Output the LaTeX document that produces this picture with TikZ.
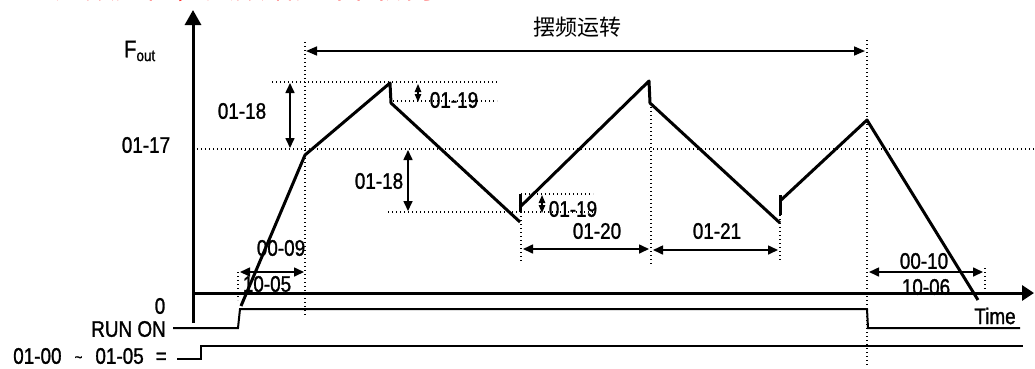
\documentclass[tikz,border=0pt]{standalone}
\usepackage{fontspec}
\setmainfont{Liberation Sans}
\newfontfamily\lblfont[FakeStretch=0.84,FakeBold=1.2]{Liberation Sans}
\newfontfamily\cjkfont{Noto Sans CJK SC}
\usetikzlibrary{arrows.meta}
\begin{document}
\begin{tikzpicture}[x=1pt,y=-1pt,
  lbl/.style={font=\lblfont\fontsize{22.5}{24}\selectfont, inner sep=0pt},
  dotline/.style={line width=1.4pt, dash pattern=on 1.4pt off 2.6pt},
  wave/.style={line width=3pt, line join=round},
  sig/.style={line width=2pt},
  dimarrow/.style={line width=1.6pt, {Triangle[length=10pt,width=9pt]}-{Triangle[length=10pt,width=9pt]}},
  smalldim/.style={line width=1.2pt, {Triangle[length=8pt,width=6.5pt]}-{Triangle[length=8pt,width=6.5pt]}},
  axisline/.style={line width=3pt}
]
\useasboundingbox (0,0) rectangle (1035,368);
\fill[white] (0,0) rectangle (1035,368);

% clipped red heading (only its lower edge is visible, as in the reference)
\begin{scope}
\clip (0,0) rectangle (1035,368);
\node[font=\cjkfont\fontsize{30}{32}\selectfont, text=red, anchor=base west, inner sep=0pt] (heading) at (55,-1.5) {加频定值，其频谱如下图所示：};
\end{scope}

% labels
\node[font=\cjkfont\fontsize{22}{24}\selectfont, inner sep=0pt] (title) at (577,27) {摆频运转};
\node[lbl, anchor=west] (fout) at (124,51) {\fontsize{24}{26}\selectfont F\raisebox{-0.3ex}{\fontsize{16}{17}\selectfont out}};
\node[lbl] (l0118a) at (242,111) {01-18};
\node[lbl] (l0117) at (146,145) {01-17};
\node[lbl] (l0119a) at (454,100) {01-19};
\node[lbl] (l0118b) at (379,181) {01-18};
\node[lbl] (l0119b) at (573,209) {01-19};
\node[lbl] (l0120) at (597,231) {01-20};
\node[lbl] (l0121) at (717,231) {01-21};
\node[lbl] (l0009) at (281,248) {00-09};
\node[lbl] (l1005) at (267,284) {10-05};
\node[lbl] (l0010) at (924,261) {00-10};
\node[lbl] (l1006) at (926,287) {10-06};
\node[lbl] (ltime) at (995,316) {Time};
\node[lbl] (lzero) at (160,306) {0};
\node[lbl, anchor=east] (lrun) at (166,329) {RUN ON};
\node[lbl, anchor=east] (lrange) at (167,356) {01-00\hspace{13pt}\raisebox{0.1ex}{\fontsize{16}{16}\selectfont\textasciitilde}\hspace{13pt}01-05\hspace{12pt}=};

% coordinates
\coordinate (ytop) at (193,10);
\coordinate (ybot) at (193,323);
\coordinate (xl) at (193,293);
\coordinate (xr) at (1034,293);

% dotted guide lines
\draw[dotline] (305,42) -- (305,315);
\draw[dotline] (238,272) -- (238,300);
\draw[dotline] (521,212) -- (521,262);
\draw[dotline] (651,103) -- (651,265);
\draw[dotline] (780,215) -- (780,262);
\draw[dotline] (867,40) -- (867,365);
\draw[dotline] (985,268) -- (985,295);
\draw[dotline] (272,82) -- (498,82);
\draw[dotline] (393,101) -- (497,101);
\draw[dotline] (193,149) -- (1035,149);
\draw[dotline] (388,212) -- (593,212);
\draw[dotline] (521,194) -- (593,194);

% axes
\draw[axisline, -{Triangle[length=15pt,width=16pt]}] (ybot) -- (ytop);
\draw[axisline, -{Triangle[length=12pt,width=15pt]}] (xl) -- (xr);

% waveform
\coordinate (w0) at (241,306);
\coordinate (w1) at (305,155);
\coordinate (p1) at (390,83);
\coordinate (p1b) at (391,103);
\coordinate (b1) at (520,222);
\coordinate (b1t) at (520,194);
\coordinate (b1m) at (520,212);
\coordinate (b1s) at (520,207);
\coordinate (p2) at (649,81);
\coordinate (p2b) at (650,103);
\coordinate (b2) at (780,223);
\coordinate (b2t) at (780,195);
\coordinate (b2m) at (780,215);
\coordinate (b2s) at (780,201);
\coordinate (p3) at (867,120);
\coordinate (w9) at (978,300);
\draw[wave] (w0) -- (w1) -- (p1) -- (p1b) -- (b1);
\draw[wave] (b1t) -- (b1m);
\draw[wave] (b1s) -- (p2) -- (p2b) -- (b2);
\draw[wave] (b2t) -- (b2m);
\draw[wave] (b2s) -- (p3) -- (w9);

% dimension arrows
\draw[line width=1.6pt, {Triangle[length=11pt,width=9pt]}-{Triangle[length=11pt,width=9pt]}] (306,51) -- (865,51);
\draw[dimarrow] (290,83) -- (290,148);
\draw[smalldim] (418,84) -- (418,102);
\draw[dimarrow] (408,150) -- (408,211);
\draw[smalldim] (542,195) -- (542,213);
\draw[dimarrow] (523,249) -- (649,249);
\draw[dimarrow] (653,250) -- (778,250);
\draw[dimarrow] (240,272) -- (304,272);
\draw[dimarrow] (869,272) -- (983,272);

% signals
\draw[sig] (173,328) -- (238,328) -- (240,309) -- (867,309) -- (868,328) -- (1020,328);
\draw[sig] (177,359) -- (201,359) -- (201,346) -- (1023,346);
\end{tikzpicture}
\end{document}
